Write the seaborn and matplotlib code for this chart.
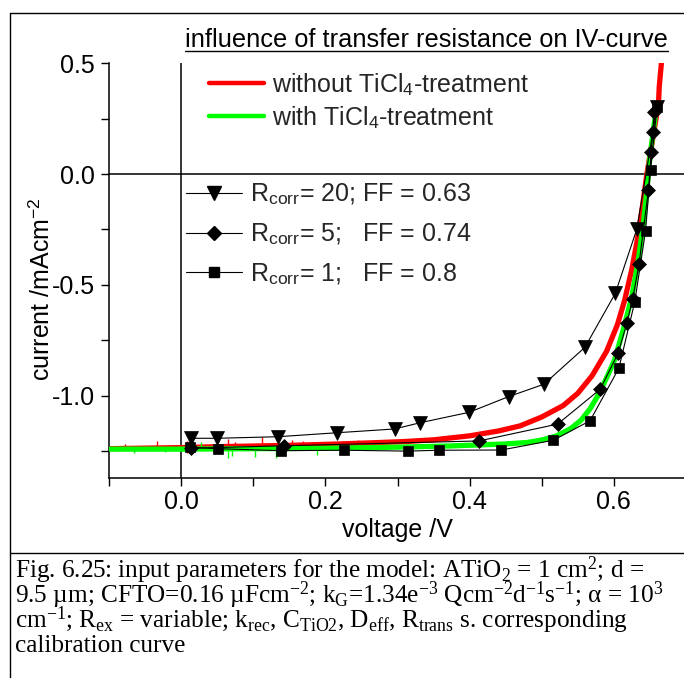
import matplotlib
matplotlib.use("Agg")
import matplotlib.pyplot as plt
from matplotlib.lines import Line2D
from matplotlib.ticker import MultipleLocator, FormatStrFormatter
import seaborn as sns

# Measured IV curves (voltage / V, current / mA cm^-2)
v_without = [-0.100, 0.000, 0.050, 0.100, 0.150, 0.216, 0.260, 0.308, 0.350, 0.400,
             0.440, 0.470, 0.500, 0.530, 0.550, 0.570, 0.590, 0.605, 0.615, 0.625,
             0.633, 0.640, 0.646, 0.654, 0.662, 0.663, 0.666]
i_without = [-1.240, -1.235, -1.231, -1.228, -1.225, -1.219, -1.214, -1.208, -1.200, -1.182,
             -1.160, -1.137, -1.097, -1.045, -0.990, -0.910, -0.800, -0.680, -0.570, -0.430,
             -0.290, -0.140, 0.003, 0.160, 0.319, 0.394, 0.500]

v_with = [-0.100, 0.000, 0.100, 0.200, 0.300, 0.370, 0.414, 0.447, 0.480, 0.500,
          0.520, 0.540, 0.555, 0.567, 0.578, 0.590, 0.601, 0.613, 0.625, 0.634,
          0.641, 0.646, 0.648, 0.653, 0.657, 0.659]
i_with = [-1.242, -1.242, -1.240, -1.238, -1.233, -1.228, -1.223, -1.219, -1.212, -1.201,
          -1.183, -1.150, -1.110, -1.060, -1.000, -0.920, -0.840, -0.704, -0.554, -0.388,
          -0.223, -0.072, 0.018, 0.150, 0.250, 0.300]

# Noise spikes on the flat part of the measured curves (voltage, lower, upper)
spike_v_without = [-0.078, -0.034, 0.008, 0.065, 0.075, 0.112, 0.135, 0.153, 0.169, 0.245]
spike_lo_without = [-1.236, -1.235, -1.260, -1.232, -1.232, -1.228, -1.252, -1.226, -1.225, -1.220]
spike_hi_without = [-1.219, -1.204, -1.204, -1.198, -1.210, -1.186, -1.227, -1.200, -1.205, -1.203]

spike_v_with = [-0.066, -0.022, 0.028, 0.065, 0.070, 0.102, 0.132, 0.188]
spike_lo_with = [-1.260, -1.255, -1.242, -1.280, -1.273, -1.276, -1.284, -1.270]
spike_hi_with = [-1.242, -1.242, -1.210, -1.242, -1.242, -1.242, -1.242, -1.240]

# Simulated curves for three transfer resistances
v_r20 = [0.013, 0.050, 0.134, 0.216, 0.296, 0.331, 0.399, 0.454, 0.503, 0.560, 0.602, 0.632, 0.660]
i_r20 = [-1.193, -1.193, -1.186, -1.168, -1.151, -1.123, -1.076, -1.005, -0.949, -0.782, -0.539, -0.248, 0.304]

v_r5 = [0.013, 0.142, 0.413, 0.522, 0.581, 0.606, 0.618, 0.626, 0.635, 0.648, 0.652, 0.654, 0.656]
i_r5 = [-1.238, -1.227, -1.205, -1.129, -0.972, -0.809, -0.674, -0.566, -0.406, -0.072, 0.100, 0.191, 0.281]

v_r1 = [0.012, 0.051, 0.138, 0.226, 0.314, 0.357, 0.444, 0.516, 0.567, 0.607, 0.629, 0.644, 0.651, 0.660]
i_r1 = [-1.234, -1.240, -1.249, -1.247, -1.251, -1.247, -1.246, -1.202, -1.114, -0.877, -0.578, -0.257, 0.018, 0.304]

measured_labels = ["without TiCl$_\\mathsf{4}$-treatment", "with TiCl$_\\mathsf{4}$-treatment"]
model_labels = ["R$_\\mathsf{corr}$= 20; FF = 0.63",
                "R$_\\mathsf{corr}$= 5;   FF = 0.74",
                "R$_\\mathsf{corr}$= 1;   FF = 0.8"]

title_text = "influence of transfer resistance on IV-curve"
caption_lines = [
    "Fig. 6.25: input parameters for the model: ATiO$_\\mathrm{2}$ = 1 cm$^\\mathrm{2}$; d =",
    "9.5 \u00b5m; CFTO=0.16 \u00b5Fcm$^\\mathrm{-2}$; k$_\\mathrm{G}$=1.34e$^\\mathrm{-3}$ "
    "Qcm$^\\mathrm{-2}$d$^\\mathrm{-1}$s$^\\mathrm{-1}$; \u03b1 = 10$^\\mathrm{3}$",
    "cm$^\\mathrm{-1}$; R$_\\mathrm{ex}$ = variable; k$_\\mathrm{rec}$, C$_\\mathrm{TiO2}$, "
    "D$_\\mathrm{eff}$, R$_\\mathrm{trans}$ s. corresponding",
    "calibration curve",
]

sns.set_theme(style="ticks")
plt.rcParams["font.family"] = ["Liberation Sans", "DejaVu Sans"]
plt.rcParams["axes.unicode_minus"] = False
plt.rcParams["mathtext.fontset"] = "custom"
plt.rcParams["mathtext.rm"] = "Liberation Serif"
plt.rcParams["mathtext.it"] = "Liberation Serif:italic"
plt.rcParams["mathtext.bf"] = "Liberation Serif:bold"
plt.rcParams["mathtext.sf"] = "Liberation Sans"

W, H = 684, 678
fig = plt.figure(figsize=(W / 100, H / 100), dpi=100)
fig.patch.set_facecolor("white")

ax_left, ax_right, ax_top, ax_bottom = 109.2, 685.9, 63.3, 477.7
ax = fig.add_axes([ax_left / W, 1 - ax_bottom / H,
                   (ax_right - ax_left) / W, (ax_bottom - ax_top) / H])
ax.set_facecolor("white")

ax.axhline(0, color="black", lw=1.1, zorder=1)
ax.axvline(0, color="black", lw=1.1, zorder=1)

red, green = "#ff0000", "#00ff00"
sns.lineplot(x=v_without, y=i_without, sort=False, estimator=None, color=red,
             lw=3.8, ax=ax, zorder=2)
ax.vlines(spike_v_without, spike_lo_without, spike_hi_without, color=red, lw=1.0, zorder=2)
sns.lineplot(x=v_with, y=i_with, sort=False, estimator=None, color=green,
             lw=3.8, ax=ax, zorder=3)
ax.vlines(spike_v_with, spike_lo_with, spike_hi_with, color=green, lw=1.0, zorder=3)

marker_kw = dict(sort=False, estimator=None, color="black", lw=0.8,
                 markeredgecolor="black", markeredgewidth=0.5, ax=ax, zorder=4)
sns.lineplot(x=v_r20, y=i_r20, marker="v", markersize=10, **marker_kw)
sns.lineplot(x=v_r5, y=i_r5, marker="D", markersize=6.8, **marker_kw)
sns.lineplot(x=v_r1, y=i_r1, marker="s", markersize=7.8, **marker_kw)

ax.set_xlim(-0.1, 0.7)
ax.set_ylim(-1.371, 0.5)
ax.xaxis.set_major_locator(MultipleLocator(0.2))
ax.xaxis.set_minor_locator(MultipleLocator(0.1))
ax.yaxis.set_major_locator(MultipleLocator(0.5))
ax.yaxis.set_minor_locator(MultipleLocator(0.25))
ax.xaxis.set_major_formatter(FormatStrFormatter("%.1f"))
ax.yaxis.set_major_formatter(FormatStrFormatter("%.1f"))
ax.tick_params(which="both", direction="out", length=5.5, width=1.0, color="black",
               labelsize=18, labelcolor="black")
ax.tick_params(axis="x", pad=3.5)
ax.tick_params(axis="y", pad=5)
for side in ["top", "right"]:
    ax.spines[side].set_visible(False)
for side in ["left", "bottom"]:
    ax.spines[side].set_linewidth(1.1)
    ax.spines[side].set_color("black")

ax.set_xlabel("voltage /V", fontsize=18, color="black", labelpad=3)
ax.set_ylabel("current /mAcm$^\\mathsf{-2}$", fontsize=18, color="black")
ax.yaxis.set_label_coords(-0.095, 0.455)

# legends
h_meas = [Line2D([], [], color=red, lw=3.2), Line2D([], [], color=green, lw=3.2)]
leg1 = ax.legend(h_meas, measured_labels, loc="upper left",
                 bbox_to_anchor=(209 / W, 1 - 71 / H), bbox_transform=fig.transFigure,
                 frameon=False, fontsize=18, handlelength=2.2, handletextpad=0.32,
                 labelspacing=0.26, borderpad=0, borderaxespad=0)
ax.add_artist(leg1)
h_mod = [Line2D([], [], color="black", lw=0.8, marker="v", markersize=10),
         Line2D([], [], color="black", lw=0.8, marker="D", markersize=6.8),
         Line2D([], [], color="black", lw=0.8, marker="s", markersize=7.8)]
leg2 = ax.legend(h_mod, model_labels, loc="upper left",
                 bbox_to_anchor=(186 / W, 1 - 182 / H), bbox_transform=fig.transFigure,
                 frameon=False, fontsize=18, handlelength=2.25, handletextpad=0.32,
                 labelspacing=0.58, borderpad=0, borderaxespad=0)

# underlined heading
t = fig.text(668 / W, 1 - 47 / H, title_text, ha="right", va="baseline",
             fontsize=18.3, color="black")
fig.canvas.draw()
bb = t.get_window_extent(fig.canvas.get_renderer())
uy = 1 - 50.5 / H
fig.add_artist(Line2D([bb.x0 / W, bb.x1 / W], [uy, uy], transform=fig.transFigure,
                      color="black", lw=1.0))

# frame around figure and caption
fx, fy, cy = 9.6, 13.3, 553.0
frame_kw = dict(transform=fig.transFigure, color="black", lw=1.0)
fig.add_artist(Line2D([fx / W, fx / W], [1 - fy / H, 0], **frame_kw))
fig.add_artist(Line2D([fx / W, 1], [1 - fy / H, 1 - fy / H], **frame_kw))
fig.add_artist(Line2D([fx / W, 1], [1 - cy / H, 1 - cy / H], **frame_kw))

baselines = [578, 603, 627.5, 652]
for line, yb in zip(caption_lines, baselines):
    fig.text(15.3 / W, 1 - yb / H, line, ha="left", va="baseline", fontsize=18.2,
             family=["Liberation Serif", "DejaVu Serif"], color="black")

fig.savefig("out.png", dpi=100, facecolor="white")
